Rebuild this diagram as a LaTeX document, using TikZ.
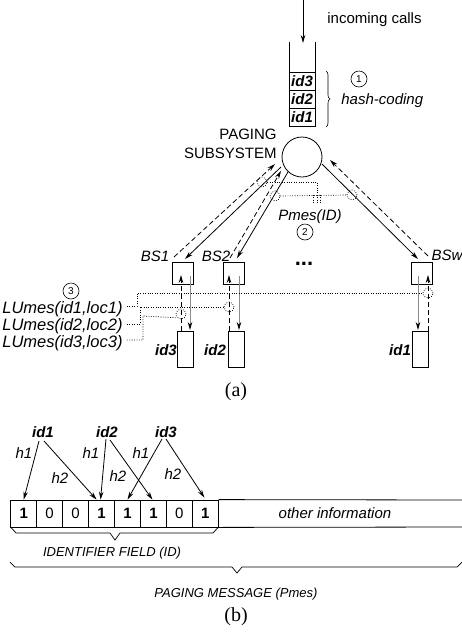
\documentclass[tikz,border=0pt]{standalone}
\usepackage{fontspec}
\setmainfont{Liberation Sans}
\newfontfamily\serifnum{Liberation Serif}
\usetikzlibrary{arrows.meta,decorations.pathreplacing}
\begin{document}
\begin{tikzpicture}[x=1pt,y=-1pt,line width=0.8pt,
  arr/.style={-{Stealth[length=8pt,width=4.5pt]}},
  garr/.style={draw=black!45,-{Stealth[length=8pt,width=4.5pt,color=black]}},
  dsh/.style={dash pattern=on 5pt off 3pt},
  dotln/.style={dash pattern=on 0.8pt off 1.6pt,line width=0.7pt},
  lbl/.style={font=\fontsize{15}{18}\selectfont\itshape,inner sep=0pt},
  lulbl/.style={font=\fontsize{16.5}{18}\selectfont\itshape,inner sep=0pt},
  smlbl/.style={font=\fontsize{13}{15}\selectfont\itshape,inner sep=0pt},
  bidl/.style={font=\fontsize{15}{18}\selectfont\bfseries\itshape,inner sep=0pt},
  bsbox/.style={draw,minimum width=21pt,minimum height=22pt,inner sep=0pt},
  termbox/.style={draw,minimum width=16pt,minimum height=36pt,inner sep=0pt},
  qcell/.style={draw,minimum width=26pt,minimum height=18pt,inner sep=0pt,font=\fontsize{15}{18}\selectfont\bfseries\itshape},
  bitcell/.style={draw,minimum width=25.95pt,minimum height=27pt,inner sep=0pt,font=\fontsize{15}{18}\selectfont},
  numc/.style={draw,circle,minimum size=16pt,inner sep=0pt,line width=0.6pt,font=\fontsize{10}{10}\selectfont},
  dcirc/.style={draw,circle,dotln,minimum size=10pt,inner sep=0pt},
  capt/.style={font=\serifnum\fontsize{20}{24}\selectfont,inner sep=0pt},
]
\useasboundingbox (0,0) rectangle (462,633);

% ---------- (a) ----------
\coordinate (in0) at (303,0);
\coordinate (in1) at (303,43);
\draw[arr] (in0) -- (in1);
\node[font=\fontsize{15}{18}\selectfont,inner sep=0pt,anchor=west] (incoming) at (327,20) {incoming calls};

\coordinate (ql0) at (289,42); \coordinate (ql1) at (289,126);
\coordinate (qr0) at (315,42); \coordinate (qr1) at (315,126);
\draw (ql0) -- (ql1);
\draw (qr0) -- (qr1);
\node[qcell] (q3) at (302,81) {id3};
\node[qcell] (q2) at (302,99) {id2};
\node[qcell] (q1) at (302,117) {id1};

\coordinate (hb0) at (326,71); \coordinate (hb1) at (326,127);
\draw[line width=0.6pt,decorate,decoration={brace,amplitude=4pt}] (hb0) -- (hb1);
\node[numc] (n1) at (359,79) {1};
\node[lbl,anchor=west] (hash) at (341,101) {hash-coding};

\node[draw,circle,minimum size=40pt,inner sep=0pt] (ps) at (302,157) {};
\node[font=\fontsize{15}{19.5}\selectfont,align=right,anchor=east,inner sep=0pt] (pslbl) at (277,144) {PAGING\\SUBSYSTEM};

% base stations
\node[bsbox] (bs1) at (182.5,273) {};
\node[bsbox] (bs2) at (233.5,273) {};
\node[bsbox] (bsw) at (422,273) {};
\node[lbl] (bs1l) at (155,256) {BS1};
\node[lbl] (bs2l) at (216,256) {BS2};
\node[lbl] (bswl) at (447,255) {BSw};
\node[font=\fontsize{22}{22}\selectfont\bfseries,inner sep=0pt] (dots) at (304,264) {...};

% diagonal connectors
\coordinate (d1a) at (174,257); \coordinate (d1b) at (275,164);
\coordinate (s1a) at (281,167); \coordinate (s1b) at (185,259);
\coordinate (d2a) at (230,258); \coordinate (d2b) at (281,171);
\coordinate (s2a) at (288,172); \coordinate (s2b) at (237,258);
\coordinate (swa) at (322,164); \coordinate (swb) at (418,259);
\coordinate (dwa) at (428,256); \coordinate (dwb) at (330,160);
\draw[arr,dsh] (d1a) -- (d1b);
\draw[arr] (s1a) -- (s1b);
\draw[arr,dsh] (d2a) -- (d2b);
\draw[arr] (s2a) -- (s2b);
\draw[arr] (swa) -- (swb);
\draw[arr,dsh] (dwa) -- (dwb);

% paging tap points
\node[dcirc] (t1) at (262,182) {};
\node[dcirc] (t2) at (275,196) {};
\node[dcirc] (tw) at (352,195) {};
\coordinate (pk1) at (317,182); \coordinate (pk2) at (317,203);
\coordinate (pm1) at (313,195); \coordinate (pm2) at (313,203);
\coordinate (pn1) at (320,195); \coordinate (pn2) at (320,203);
\draw[dotln] (t1.east) -- (pk1) -- (pk2);
\draw[dotln] (t2.east) -- (tw.west);
\draw[dotln] (pm1) -- (pm2);
\draw[dotln] (pn1) -- (pn2);
\node[lbl] (pmes) at (310,217) {Pmes(ID)};
\node[numc] (n2) at (305,232) {2};

% terminals
\node[termbox] (m3) at (185,349) {};
\node[termbox] (m2) at (236,349) {};
\node[termbox] (m1) at (420,349) {};
\node[bidl] (m3l) at (166,350) {id3};
\node[bidl] (m2l) at (215,350) {id2};
\node[bidl] (m1l) at (400,350) {id1};

% vertical arrows
\coordinate (u1a) at (181,331); \coordinate (u1b) at (181,275);
\coordinate (g1a) at (190,276); \coordinate (g1b) at (190,330);
\coordinate (u2a) at (229,331); \coordinate (u2b) at (229,275);
\coordinate (g2a) at (239,276); \coordinate (g2b) at (239,330);
\coordinate (uwa) at (428,331); \coordinate (uwb) at (428,275);
\coordinate (gwa) at (418,276); \coordinate (gwb) at (418,330);
\draw[arr,dsh] (u1a) -- (u1b);
\draw[garr] (g1a) -- (g1b);
\draw[arr,dsh] (u2a) -- (u2b);
\draw[garr] (g2a) -- (g2b);
\draw[arr,dsh] (uwa) -- (uwb);
\draw[garr] (gwa) -- (gwb);

% location update messages
\node[numc] (n3) at (71,291) {3};
\node[lulbl,anchor=west] (lu1) at (2,309) {LUmes(id1,loc1)};
\node[lulbl,anchor=west] (lu2) at (2,326) {LUmes(id2,loc2)};
\node[lulbl,anchor=west] (lu3) at (2,343) {LUmes(id3,loc3)};
\node[dcirc] (c1) at (181,314) {};
\node[dcirc] (c2) at (229,307) {};
\node[dcirc] (cw) at (428,293) {};
\coordinate (e1) at (137,306); \coordinate (f1) at (137,293);
\coordinate (e2) at (140,324); \coordinate (f2) at (140,307);
\coordinate (e3) at (143,340); \coordinate (f3) at (143,316);
\draw[dotln] ([xshift=4pt]lu1.east |- e1) -- (e1) -- (f1) -- (cw.west);
\draw[dotln] ([xshift=4pt]lu2.east |- e2) -- (e2) -- (f2) -- (c2.west);
\draw[dotln] ([xshift=4pt]lu3.east |- e3) -- (e3) -- (f3) -- (c1.south west);

\node[capt] (capa) at (236,392) {(a)};

% ---------- (b) ----------
\node[bidl] (i1) at (43,432) {id1};
\node[bidl] (i2) at (107,432) {id2};
\node[bidl] (i3) at (166,432) {id3};

\foreach \b [count=\k from 0] in {1,0,0,1,1,1,0,1}{
  \ifnum\b=1
    \node[bitcell,font=\fontsize{15}{18}\selectfont\bfseries] (bit\k) at ({23.7+25.95*\k},513.5) {\b};
  \else
    \node[bitcell] (bit\k) at ({23.7+25.95*\k},513.5) {\b};
  \fi
}
\coordinate (ot0) at (462,500); \coordinate (ot1) at (462,527);
\draw (bit7.north east) -- (ot0);
\draw (bit7.south east) -- (ot1);
\node[lbl] (other) at (335,513) {other information};

\coordinate (a11) at (39,441); \coordinate (a12) at (44,441);
\coordinate (a21) at (106,439); \coordinate (a22) at (110,440);
\coordinate (a31) at (162,439); \coordinate (a32) at (166,439);
\draw[arr] (a11) -- (bit0.north);
\draw[arr] (a12) -- ([xshift=-5pt]bit3.north);
\draw[arr] (a21) -- ([xshift=-1pt]bit3.north);
\draw[arr] (a22) -- ([xshift=-1pt]bit5.north);
\draw[arr] (a31) -- (bit4.north);
\draw[arr] (a32) -- ([xshift=-1pt,yshift=2pt]bit7.north);
\node[lbl] (h11) at (24,453) {h1};
\node[lbl] (h12) at (60,478) {h2};
\node[lbl] (h21) at (91,453) {h1};
\node[lbl] (h22) at (118,476) {h2};
\node[lbl] (h31) at (141,453) {h1};
\node[lbl] (h32) at (173,474) {h2};

% braces
\coordinate (br1a) at (11,527.5); \coordinate (br1b) at (218,527.5);
\draw[line width=0.7pt] (br1a) -- (16,533) -- (110,533) -- (115,540) -- (120,533) -- (213,533) -- (br1b);
\node[smlbl] (idf) at (112,553) {IDENTIFIER FIELD (ID)};
\coordinate (br2a) at (10,562); \coordinate (br2b) at (462,562);
\draw[line width=0.7pt] (br2a) -- (15,567) -- (232,567) -- (237,573) -- (242,567) -- (457,567) -- (br2b);
\node[smlbl] (pmsg) at (236,594) {PAGING MESSAGE (Pmes)};

\node[capt] (capb) at (236,617) {(b)};
\end{tikzpicture}
\end{document}
